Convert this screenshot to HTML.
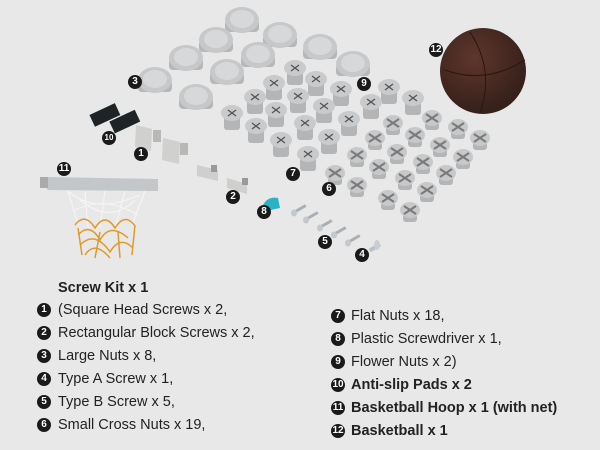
<!DOCTYPE html>
<html><head><style>
html,body{margin:0;padding:0;background:#e8e8e8;}
body{width:600px;height:450px;position:relative;overflow:hidden;font-family:"Liberation Sans",Arial,sans-serif;color:#222;}
.t{position:absolute;font-size:14.5px;white-space:nowrap;line-height:18px;}
.n{position:absolute;width:14px;height:14px;border-radius:50%;background:#1a1a1a;color:#fff;font-size:10px;font-weight:bold;text-align:center;line-height:14px;}
svg{position:absolute;left:0;top:0;}
</style></head><body>
<svg width="600" height="270" viewBox="0 0 600 270">
<defs>
<radialGradient id="ball" cx="40%" cy="35%" r="65%"><stop offset="0" stop-color="#5e362c"/><stop offset="1" stop-color="#35201a"/></radialGradient>
<g id="big"><rect x="-17" y="0" width="34" height="12" rx="4" fill="#b5b7b8"/><ellipse cx="0" cy="0" rx="17" ry="13" fill="#c6c8c9"/><ellipse cx="0" cy="-1" rx="12" ry="9" fill="#d6d8d9"/></g>
<g id="flat"><rect x="-8" y="0" width="16" height="17" rx="3" fill="#b3b5b6"/><ellipse cx="0" cy="0" rx="11" ry="8" fill="#c8cacb"/><path d="M-4,-3L4,3M4,-3L-4,3" stroke="#555" stroke-width="1.3"/></g>
<g id="cross"><rect x="-7" y="0" width="14" height="12" rx="3" fill="#b3b5b6"/><ellipse cx="0" cy="0" rx="10" ry="8" fill="#c6c8c9"/><path d="M-6,-4L6,4M6,-4L-6,4" stroke="#7a7a7a" stroke-width="2"/></g>
<g id="screw"><rect x="-1.5" y="-9" width="3" height="14" fill="#a9b0b5" transform="rotate(60)"/><ellipse cx="-4" cy="3" rx="3" ry="3.5" fill="#c2c8cc"/></g>
</defs>
<use href="#big" x="242" y="20"/><use href="#big" x="280" y="35"/><use href="#big" x="216" y="40"/>
<use href="#big" x="258" y="55"/><use href="#big" x="186" y="58"/><use href="#big" x="227" y="72"/>
<use href="#big" x="155" y="80"/><use href="#big" x="196" y="97"/>
<use href="#big" x="320" y="47"/><use href="#big" x="353" y="64"/>
<g>
<use href="#flat" x="295" y="68"/><use href="#flat" x="274" y="83"/><use href="#flat" x="316" y="79"/><use href="#flat" x="255" y="97"/><use href="#flat" x="298" y="96"/><use href="#flat" x="341" y="89"/><use href="#flat" x="389" y="87"/><use href="#flat" x="413" y="98"/><use href="#flat" x="232" y="113"/><use href="#flat" x="276" y="110"/><use href="#flat" x="324" y="106"/><use href="#flat" x="371" y="102"/><use href="#flat" x="256" y="126"/><use href="#flat" x="305" y="123"/><use href="#flat" x="349" y="119"/><use href="#flat" x="281" y="140"/><use href="#flat" x="329" y="137"/><use href="#flat" x="308" y="154"/>
</g>
<g>
<use href="#cross" x="432" y="118"/><use href="#cross" x="458" y="127"/><use href="#cross" x="480" y="138"/><use href="#cross" x="393" y="123"/><use href="#cross" x="415" y="135"/><use href="#cross" x="440" y="145"/><use href="#cross" x="463" y="157"/><use href="#cross" x="375" y="138"/><use href="#cross" x="397" y="152"/><use href="#cross" x="423" y="162"/><use href="#cross" x="446" y="173"/><use href="#cross" x="357" y="155"/><use href="#cross" x="379" y="167"/><use href="#cross" x="405" y="178"/><use href="#cross" x="427" y="190"/><use href="#cross" x="335" y="173"/><use href="#cross" x="357" y="185"/><use href="#cross" x="388" y="198"/><use href="#cross" x="410" y="210"/>
</g>
<circle cx="483" cy="71" r="43" fill="url(#ball)"/>
<path d="M445,70Q485,85 525,60M470,32Q495,70 480,113" stroke="#2a1510" stroke-width="1" fill="none"/>
<g transform="rotate(-25 106 115)"><rect x="91" y="108" width="28" height="13" fill="#1e2326"/></g>
<g transform="rotate(-25 125 122)"><rect x="111" y="115" width="28" height="13" fill="#1e2326"/></g>
<path d="M136,125L152,129L151,151L135,147Z" fill="#d0d0ce"/><path d="M163,138L180,142L179,164L162,160Z" fill="#d0d0ce"/>
<rect x="153" y="130" width="8" height="12" fill="#b8b8b6"/><rect x="180" y="143" width="8" height="12" fill="#b8b8b6"/>
<path d="M197,165L218,170L218,181L197,176Z" fill="#cfcfcd"/><path d="M227,178L247,184L247,194L227,188Z" fill="#cfcfcd"/>
<rect x="211" y="165" width="6" height="7" fill="#999"/><rect x="242" y="178" width="6" height="7" fill="#999"/>
<path d="M263,205Q268,196 278,198L280,208L266,211Z" fill="#2ab3c3"/>
<use href="#screw" x="298" y="210"/><use href="#screw" x="310" y="217"/><use href="#screw" x="324" y="225"/><use href="#screw" x="338" y="232"/><use href="#screw" x="352" y="240"/>
<g transform="translate(373,248)"><rect x="-1.5" y="-8" width="4" height="12" fill="#b8c0c5" transform="rotate(60)"/><ellipse cx="4" cy="-3" rx="3" ry="5" fill="#c8cfd3"/></g>
<path d="M40,179L48,177L158,179L158,191L48,190Z" fill="#c4c7c9"/>
<rect x="40" y="177" width="8" height="11" fill="#aaa"/>
<g fill="none" stroke="#f4f4f4" stroke-width="1.2">
<path d="M68,191L78,225M85,191L88,228M105,191L100,228M125,191L115,228M145,191L132,225M68,191Q95,215 140,195M75,210Q105,195 138,215M80,200Q110,225 135,200"/>
</g>
<g fill="none" stroke="#e09a2a" stroke-width="1.5">
<path d="M75,225Q85,212 95,228Q105,212 115,228Q125,212 135,226M78,235Q90,222 100,240Q110,222 128,238M80,245Q95,230 110,252Q120,235 133,248M85,255Q95,240 110,258M78,228L82,255M135,225L132,255M100,232L95,258M118,232L120,258"/>
</g>
</svg>
<div class="n" style="left:128px;top:75px">3</div>
<div class="n" style="left:429px;top:43px">12</div>
<div class="n" style="left:357px;top:77px">9</div>
<div class="n" style="left:102px;top:131px;font-size:8px">10</div>
<div class="n" style="left:134px;top:147px">1</div>
<div class="n" style="left:57px;top:162px">11</div>
<div class="n" style="left:286px;top:167px">7</div>
<div class="n" style="left:322px;top:182px">6</div>
<div class="n" style="left:226px;top:190px">2</div>
<div class="n" style="left:257px;top:205px">8</div>
<div class="n" style="left:318px;top:235px">5</div>
<div class="n" style="left:355px;top:248px">4</div>
<div class="t" style="left:58px;top:279px;font-weight:bold">Screw Kit x 1</div>
<div class="n" style="left:37px;top:303px">1</div><div class="t" style="left:58px;top:301px">(Square Head Screws x 2,</div>
<div class="n" style="left:37px;top:326px">2</div><div class="t" style="left:58px;top:324px">Rectangular Block Screws x 2,</div>
<div class="n" style="left:37px;top:349px">3</div><div class="t" style="left:58px;top:347px">Large Nuts x 8,</div>
<div class="n" style="left:37px;top:372px">4</div><div class="t" style="left:58px;top:370px">Type A Screw x 1,</div>
<div class="n" style="left:37px;top:395px">5</div><div class="t" style="left:58px;top:393px">Type B Screw x 5,</div>
<div class="n" style="left:37px;top:418px">6</div><div class="t" style="left:58px;top:416px">Small Cross Nuts x 19,</div>
<div class="n" style="left:331px;top:309px">7</div><div class="t" style="left:351px;top:307px">Flat Nuts x 18,</div>
<div class="n" style="left:331px;top:332px">8</div><div class="t" style="left:351px;top:330px">Plastic Screwdriver x 1,</div>
<div class="n" style="left:331px;top:355px">9</div><div class="t" style="left:351px;top:353px">Flower Nuts x 2)</div>
<div class="n" style="left:331px;top:378px">10</div><div class="t" style="left:351px;top:376px;font-weight:bold">Anti-slip Pads x 2</div>
<div class="n" style="left:331px;top:401px">11</div><div class="t" style="left:351px;top:399px;font-weight:bold">Basketball Hoop x 1 (with net)</div>
<div class="n" style="left:331px;top:424px">12</div><div class="t" style="left:351px;top:422px;font-weight:bold">Basketball x 1</div>
</body></html>
